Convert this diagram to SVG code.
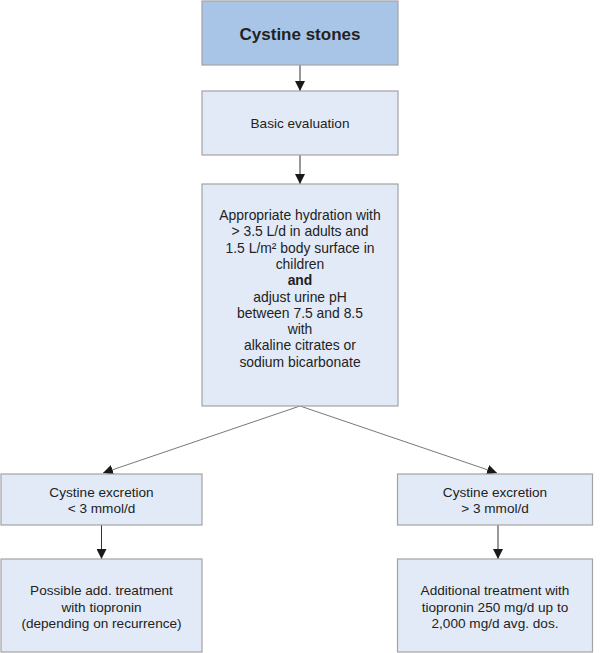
<svg xmlns="http://www.w3.org/2000/svg" width="600" height="653" viewBox="0 0 600 653">
<defs>
<marker id="ah" viewBox="0 0 10 10" refX="10" refY="5" markerWidth="10" markerHeight="10" markerUnits="userSpaceOnUse" orient="auto">
<path d="M0,0 L10,5 L0,10 z" fill="#1a1a1a"/>
</marker>
<style>
.box{fill:#e2eaf7;stroke:#a3a3a3;stroke-width:1.2}
.top{fill:#a8c5e8;stroke:#a3a3a3;stroke-width:1.2}
.t{font-family:"Liberation Sans",Arial,sans-serif;font-size:13.6px;fill:#222;text-anchor:middle}
.b{font-weight:bold}
.h{font-size:13.9px}
.c{stroke:#333;stroke-width:1;fill:none;marker-end:url(#ah)}
.d{stroke:#555;stroke-width:0.8;fill:none;marker-end:url(#ah)}
</style>
</defs>
<rect width="600" height="653" fill="#fff"/>
<g id="connectors">
<line class="c" x1="300" y1="65" x2="300" y2="91"/>
<line class="c" x1="300" y1="155" x2="300" y2="184"/>
<line class="d" x1="300" y1="406" x2="103" y2="473"/>
<line class="d" x1="300" y1="406" x2="497" y2="473"/>
<line class="c" x1="101.5" y1="525" x2="101.5" y2="559"/>
<line class="c" x1="498" y1="525" x2="498" y2="559"/>
</g>
<g id="n-cystine-stones">
<rect class="top" x="202" y="1" width="196" height="64"/>
<text class="t b" x="300" y="40" style="font-size:17px">Cystine stones</text>
</g>
<g id="n-basic-evaluation">
<rect class="box" x="202" y="91" width="196" height="64"/>
<text class="t" x="300" y="128">Basic evaluation</text>
</g>
<g id="n-hydration">
<rect class="box" x="202" y="184" width="196" height="222"/>
<text class="t h" x="300" y="220">Appropriate hydration with</text>
<text class="t h" x="300" y="236.3">&gt; 3.5 L/d in adults and</text>
<text class="t h" x="300" y="252.6">1.5 L/m² body surface in</text>
<text class="t h" x="300" y="268.9">children</text>
<text class="t h b" x="300" y="285.2">and</text>
<text class="t h" x="300" y="301.5">adjust urine pH</text>
<text class="t h" x="300" y="317.8">between 7.5 and 8.5</text>
<text class="t h" x="300" y="334.1">with</text>
<text class="t h" x="300" y="350.4">alkaline citrates or</text>
<text class="t h" x="300" y="366.7">sodium bicarbonate</text>
</g>
<g id="n-excretion-low">
<rect class="box" x="1" y="474" width="201" height="51"/>
<text class="t" x="101.5" y="496.5">Cystine excretion</text>
<text class="t" x="101.5" y="512.5">&lt; 3 mmol/d</text>
</g>
<g id="n-excretion-high">
<rect class="box" x="397.5" y="474" width="195" height="51"/>
<text class="t" x="495" y="496.5">Cystine excretion</text>
<text class="t" x="495" y="512.5">&gt; 3 mmol/d</text>
</g>
<g id="n-possible-treatment">
<rect class="box" x="1" y="559" width="201" height="93"/>
<text class="t" x="101.5" y="595">Possible add. treatment</text>
<text class="t" x="101.5" y="611.5">with tiopronin</text>
<text class="t" x="101.5" y="627.5">(depending on recurrence)</text>
</g>
<g id="n-additional-treatment">
<rect class="box" x="397.5" y="559" width="195" height="93"/>
<text class="t" x="495" y="595">Additional treatment with</text>
<text class="t" x="495" y="611.5">tiopronin 250 mg/d up to</text>
<text class="t" x="495" y="627.5">2,000 mg/d avg. dos.</text>
</g>
</svg>
